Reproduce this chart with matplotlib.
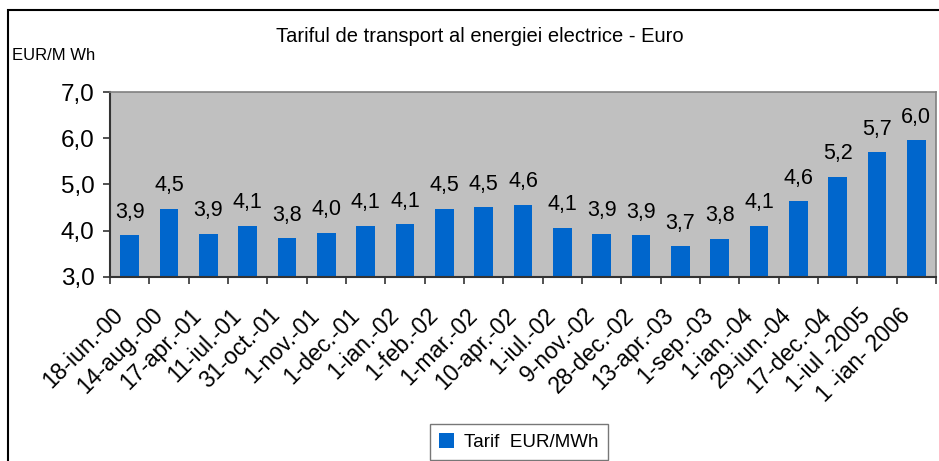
import matplotlib.pyplot as plt
from matplotlib.patches import Rectangle
from matplotlib.transforms import ScaledTranslation

# data
dates = ["18-iun.-00", "14-aug.-00", "17-apr.-01", "11-iul.-01", "31-oct.-01",
         "1-nov.-01", "1-dec.-01", "1-ian.-02", "1-feb.-02", "1-mar.-02",
         "10-apr.-02", "1-iul.-02", "9-nov.-02", "28-dec.-02", "13-apr.-03",
         "1-sep.-03", "1-ian.-04", "29-iun.-04", "17-dec.-04", "1-iul -2005",
         "1 -ian- 2006"]
tarif = [3.91, 4.48, 3.94, 4.11, 3.84, 3.96, 4.11, 4.14, 4.48, 4.51, 4.56,
         4.07, 3.94, 3.91, 3.67, 3.83, 4.11, 4.64, 5.17, 5.70, 5.96]
yticks = [3.0, 4.0, 5.0, 6.0, 7.0]

plt.rcParams['font.family'] = ['Liberation Sans', 'DejaVu Sans']

fig = plt.figure(figsize=(9.39, 4.61), dpi=100)
fig.patch.set_facecolor('white')
ax = fig.add_axes([110 / 939, 1 - 277 / 461, 826 / 939, 185 / 461])
ax.set_facecolor('#c0c0c0')

x = list(range(len(dates)))
bars = ax.bar(x, tarif, width=0.48, color='#0066cc', label='Tarif  EUR/MWh', zorder=2)

for xi, v in zip(x, tarif):
    ax.annotate(f"{v:.1f}".replace('.', ','), (xi, v), xytext=(0, 12.5),
                textcoords='offset points', ha='center', va='baseline', fontsize=15.5)

ax.set_xlim(-0.5, len(dates) - 0.5)
ax.set_ylim(3, 7)
ax.set_yticks(yticks)
ax.set_yticklabels([f"{t:.1f}".replace('.', ',') for t in yticks], fontsize=17.5)

# category ticks at boundaries, labels at centers
ax.set_xticks([i - 0.5 for i in range(len(dates) + 1)])
ax.set_xticklabels([])
ax.set_xticks(x, minor=True)
ax.set_xticklabels(dates, minor=True, rotation=45, ha='right', va='center',
                   rotation_mode='anchor', fontsize=16.5)
ax.tick_params(axis='x', which='minor', length=0, pad=25)
ax.tick_params(axis='x', which='major', length=5, width=1.2, color='#333333')
ax.tick_params(axis='y', length=5, width=1.2, color='#333333', pad=6)
shift = ScaledTranslation(-0.1, 0, fig.dpi_scale_trans)
for lbl in ax.get_xticklabels(minor=True):
    lbl.set_transform(lbl.get_transform() + shift)

for s in ['top', 'right']:
    ax.spines[s].set_color('#808080')
    ax.spines[s].set_linewidth(1.2)
for s in ['left', 'bottom']:
    ax.spines[s].set_color('#333333')
    ax.spines[s].set_linewidth(1.5)

fig.text(480 / 939, 1 - 37 / 461, "Tariful de transport al energiei electrice - Euro",
         ha='center', va='center', fontsize=14.5)
fig.text(12 / 939, 1 - 55 / 461, "EUR/M Wh", ha='left', va='center', fontsize=12)

fig.legend(handles=[bars], labels=['Tarif  EUR/MWh'], loc='upper left',
           bbox_to_anchor=(430 / 939, 1 - 424 / 461), fontsize=13.5,
           frameon=True, fancybox=False, edgecolor='#555555', borderpad=0.5,
           handlelength=0.8, handleheight=0.8, handletextpad=0.5, borderaxespad=0)

fig.patches.append(Rectangle((8 / 939, -0.1), 1.2, 1.1 - 10 / 461, transform=fig.transFigure,
                             fill=False, edgecolor='black', linewidth=1.5))

fig.savefig('out.png', dpi=100)
